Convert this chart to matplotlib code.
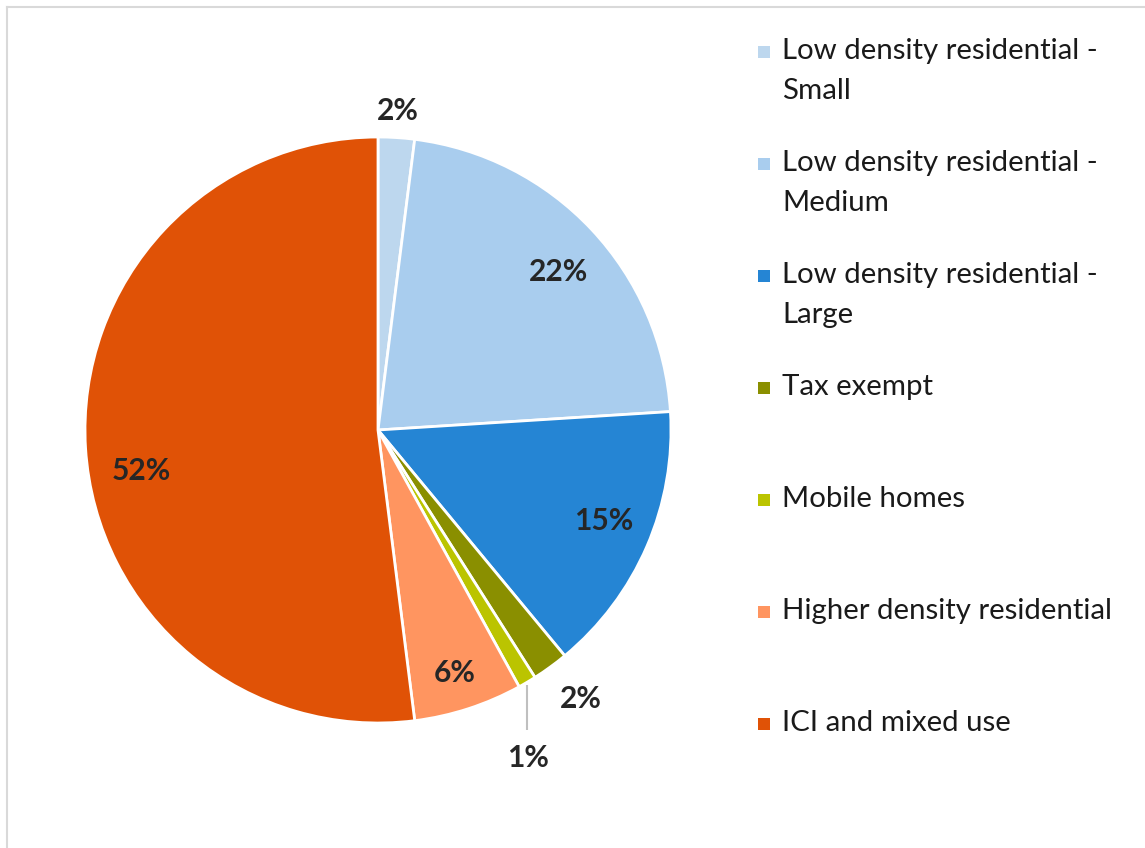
import matplotlib
matplotlib.use("Agg")
import matplotlib.pyplot as plt
from matplotlib.patches import Rectangle
from matplotlib.lines import Line2D
import numpy as np

plt.rcParams['font.family'] = ['Lato', 'DejaVu Sans']

categories = ["Low density residential -\nSmall",
              "Low density residential -\nMedium",
              "Low density residential -\nLarge",
              "Tax exempt",
              "Mobile homes",
              "Higher density residential",
              "ICI and mixed use"]
shares = [2, 22, 15, 2, 1, 6, 52]
labels = ["2%", "22%", "15%", "2%", "1%", "6%", "52%"]
colors = ["#BDD7EE", "#A9CDEE", "#2585D4", "#8A8F00", "#BBC400", "#FF9560", "#E05206"]

# where each label sits: radial distance (in radii) and angle shift from wedge middle
label_dist = [1.09, 0.82, 0.83, 1.15, 1.23, 0.87, 0.82]
label_shift = [0, -2, 1.3, 1, -6, -0.5, 6.3]

W, H = 1145, 848
fig = plt.figure(figsize=(W / 100, H / 100), dpi=100)

# pie centre and radius in pixels
cx, cy, R = 378, 430, 293
half = 300
ax = fig.add_axes([(cx - half) / W, (H - cy - half) / H, 2 * half / W, 2 * half / H])

wedges, _ = ax.pie(shares, colors=colors, startangle=90, counterclock=False,
                   radius=1, wedgeprops=dict(edgecolor='white', linewidth=2))
lim = half / R
ax.set_xlim(-lim, lim)
ax.set_ylim(-lim, lim)
ax.set_aspect('equal')
ax.axis('off')

for i, w in enumerate(wedges):
    mid = (w.theta1 + w.theta2) / 2
    ang = np.deg2rad(mid + label_shift[i])
    x, y = label_dist[i] * np.cos(ang), label_dist[i] * np.sin(ang)
    ax.text(x, y, labels[i], ha='center', va='center', fontsize=21.5,
            fontweight='bold', color='#262626')
    if labels[i] == "1%" and shares[i] == 1:
        m = np.deg2rad(mid)
        x0, y0 = np.cos(m), np.sin(m)
        ax.plot([x0, x0], [y0 - 0.01, y + 0.08], color='#BFBFBF', lw=1.5,
                solid_capstyle='butt')

# legend drawn by hand, one slot per category
for i, (cat, col) in enumerate(zip(categories, colors)):
    ypix = 52 + i * 112
    fig.patches.append(Rectangle(((758) / W, (H - ypix - 6) / H), 12 / W, 12 / H,
                                 transform=fig.transFigure, facecolor=col,
                                 edgecolor='none'))
    fig.text(782 / W, (H - ypix + 14) / H, cat, ha='left', va='top', fontsize=21.2,
             color='#1a1a1a', linespacing=1.68)

# thin chart border on top and left
fig.lines.append(Line2D([7 / W, 7 / W], [0, (H - 7) / H], transform=fig.transFigure,
                        color='#D9D9D9', lw=1.5))
fig.lines.append(Line2D([7 / W, 1], [(H - 7) / H, (H - 7) / H], transform=fig.transFigure,
                        color='#D9D9D9', lw=1.5))

fig.savefig("out.png", dpi=100, facecolor='white')
